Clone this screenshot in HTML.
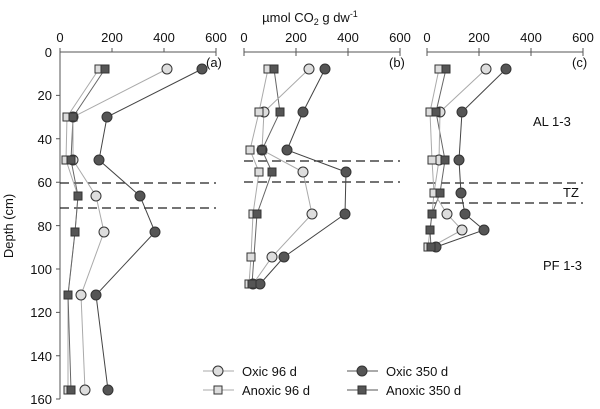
<!DOCTYPE html><html><head><style>body{margin:0;background:#fff}svg{display:block;font-family:"Liberation Sans",sans-serif}</style></head><body>
<svg width="600" height="409" viewBox="0 0 600 409">
<g stroke="#555" stroke-width="1" fill="none">
<path d="M60,52H216M60,48V52M112,48V52M164,48V52M216,48V56"/>
<path d="M60,52V399M56,95.4H60M56,138.8H60M56,182.2H60M56,225.6H60M56,269H60M56,312.4H60M56,355.8H60M56,399H60"/>
<path d="M244,52H400M244,48V56M296,48V56M348,48V56M400,48V56"/>
<path d="M427,52H583M427,48V56M479,48V56M531,48V56M583,48V56"/>
</g>
<g font-size="13" fill="#111" text-anchor="middle">
<text x="60" y="42">0</text><text x="112" y="42">200</text><text x="164" y="42">400</text><text x="216" y="42">600</text>
<text x="244" y="42">0</text><text x="296" y="42">200</text><text x="348" y="42">400</text><text x="400" y="42">600</text>
<text x="427" y="42">0</text><text x="479" y="42">200</text><text x="531" y="42">400</text><text x="583" y="42">600</text>
</g>
<g font-size="13" fill="#111" text-anchor="end">
<text x="52" y="57">0</text><text x="52" y="100">20</text><text x="52" y="144">40</text><text x="52" y="187">60</text><text x="52" y="231">80</text><text x="52" y="274">100</text><text x="52" y="317">120</text><text x="52" y="361">140</text><text x="52" y="404">160</text>
</g>
<text x="310" y="22" font-size="13" text-anchor="middle" fill="#111">µmol CO<tspan font-size="9" dy="3">2</tspan><tspan dy="-3"> g dw</tspan><tspan font-size="9" dy="-5">-1</tspan></text>
<text transform="translate(13,226) rotate(-90)" font-size="13" text-anchor="middle" fill="#111">Depth (cm)</text>
<g font-size="13" fill="#111">
<text x="206" y="67">(a)</text><text x="389" y="67">(b)</text><text x="572" y="67">(c)</text>
<text x="533" y="126">AL 1-3</text><text x="563" y="197">TZ</text><text x="543" y="270">PF 1-3</text>
</g>
<g stroke="#222" stroke-width="1.3" stroke-dasharray="9,5">
<path d="M60,183H216M60,208H216M244,161H400M244,182H400M427,183H583M427,203H583"/>
</g>
<!-- lines -->
<g fill="none" stroke-width="1">
<polyline stroke="#aaa" points="99,69 67,117 66,160 78,196 75,232 68,295 68,390"/>
<polyline stroke="#666" points="105,69 73,117 71,160 78,196 75,232 68,295 71,390"/>
<polyline stroke="#aaa" points="167,69 73,117 73,160 96,196 104,232 81,295 85,390"/>
<polyline stroke="#444" points="202,69 107,117 99,160 140,196 155,232 96,295 108,390"/>
<polyline stroke="#aaa" points="268,69 259,112 250,150 259,172 253,214 251,257 249,284"/>
<polyline stroke="#666" points="274,69 280,112 262,150 272,172 257,214 252,284"/>
<polyline stroke="#aaa" points="309,69 264,112 262,150 303,172 312,214 272,257 253,284"/>
<polyline stroke="#444" points="325,69 303,112 287,150 346,172 345,214 284,257 260,284"/>
<polyline stroke="#aaa" points="439,69 430,112 432,160 434,193 432,214 430,230 428,247"/>
<polyline stroke="#666" points="446,69 436,112 445,160 440,193 432,214 430,230 431,247"/>
<polyline stroke="#aaa" points="486,69 440,112 439,160 434,193 447,214 462,230 431,247"/>
<polyline stroke="#444" points="506,69 462,112 459,160 461,193 465,214 484,230 436,247"/>
</g>
<g stroke="#333" stroke-width="1">
<g fill="#ddd">
<circle cx="167" cy="69" r="5"/><circle cx="73" cy="117" r="5"/><circle cx="73" cy="160" r="5"/><circle cx="96" cy="196" r="5"/><circle cx="104" cy="232" r="5"/><circle cx="81" cy="295" r="5"/><circle cx="85" cy="390" r="5"/>
<circle cx="309" cy="69" r="5"/><circle cx="264" cy="112" r="5"/><circle cx="262" cy="150" r="5"/><circle cx="303" cy="172" r="5"/><circle cx="312" cy="214" r="5"/><circle cx="272" cy="257" r="5"/><circle cx="253" cy="284" r="5"/>
<circle cx="486" cy="69" r="5"/><circle cx="440" cy="112" r="5"/><circle cx="439" cy="160" r="5"/><circle cx="447" cy="214" r="5"/><circle cx="462" cy="230" r="5"/>
</g>
<g fill="#555">
<circle cx="202" cy="69" r="5"/><circle cx="107" cy="117" r="5"/><circle cx="99" cy="160" r="5"/><circle cx="140" cy="196" r="5"/><circle cx="155" cy="232" r="5"/><circle cx="96" cy="295" r="5"/><circle cx="108" cy="390" r="5"/>
<circle cx="325" cy="69" r="5"/><circle cx="303" cy="112" r="5"/><circle cx="287" cy="150" r="5"/><circle cx="346" cy="172" r="5"/><circle cx="345" cy="214" r="5"/><circle cx="284" cy="257" r="5"/><circle cx="260" cy="284" r="5"/>
<circle cx="506" cy="69" r="5"/><circle cx="462" cy="112" r="5"/><circle cx="459" cy="160" r="5"/><circle cx="461" cy="193" r="5"/><circle cx="465" cy="214" r="5"/><circle cx="484" cy="230" r="5"/><circle cx="436" cy="247" r="5"/>
</g>
<g fill="#ddd">
<rect x="95" y="65" width="8" height="8"/><rect x="63" y="113" width="8" height="8"/><rect x="62" y="156" width="8" height="8"/><rect x="74" y="192" width="8" height="8"/><rect x="71" y="228" width="8" height="8"/><rect x="64" y="291" width="8" height="8"/><rect x="64" y="386" width="8" height="8"/>
<rect x="264" y="65" width="8" height="8"/><rect x="255" y="108" width="8" height="8"/><rect x="246" y="146" width="8" height="8"/><rect x="255" y="168" width="8" height="8"/><rect x="249" y="210" width="8" height="8"/><rect x="247" y="253" width="8" height="8"/><rect x="245" y="280" width="8" height="8"/>
<rect x="435" y="65" width="8" height="8"/><rect x="426" y="108" width="8" height="8"/><rect x="428" y="156" width="8" height="8"/><rect x="430" y="189" width="8" height="8"/><rect x="428" y="210" width="8" height="8"/><rect x="426" y="226" width="8" height="8"/><rect x="424" y="243" width="8" height="8"/>
</g>
<g fill="#555">
<rect x="101" y="65" width="8" height="8"/><rect x="69" y="113" width="8" height="8"/><rect x="67" y="156" width="8" height="8"/><rect x="74" y="192" width="8" height="8"/><rect x="71" y="228" width="8" height="8"/><rect x="64" y="291" width="8" height="8"/><rect x="67" y="386" width="8" height="8"/>
<rect x="270" y="65" width="8" height="8"/><rect x="276" y="108" width="8" height="8"/><rect x="258" y="146" width="8" height="8"/><rect x="268" y="168" width="8" height="8"/><rect x="253" y="210" width="8" height="8"/><rect x="248" y="280" width="8" height="8"/>
<rect x="442" y="65" width="8" height="8"/><rect x="432" y="108" width="8" height="8"/><rect x="441" y="156" width="8" height="8"/><rect x="436" y="189" width="8" height="8"/><rect x="428" y="210" width="8" height="8"/><rect x="426" y="226" width="8" height="8"/><rect x="427" y="243" width="8" height="8"/>
</g>
</g>
<!-- legend -->
<g stroke-width="1">
<path d="M203,371H234M203,390H234" stroke="#aaa"/>
<path d="M347,371H378M347,390H378" stroke="#555"/>
<circle cx="218" cy="371" r="5" fill="#ddd" stroke="#333"/>
<rect x="214" y="386" width="8" height="8" fill="#ddd" stroke="#333"/>
<circle cx="362" cy="371" r="5" fill="#555" stroke="#333"/>
<rect x="358" y="386" width="8" height="8" fill="#555" stroke="#333"/>
</g>
<g font-size="13" fill="#111">
<text x="242" y="376">Oxic 96 d</text><text x="242" y="395">Anoxic 96 d</text>
<text x="386" y="376">Oxic 350 d</text><text x="386" y="395">Anoxic 350 d</text>
</g>
</svg>
</body></html>
